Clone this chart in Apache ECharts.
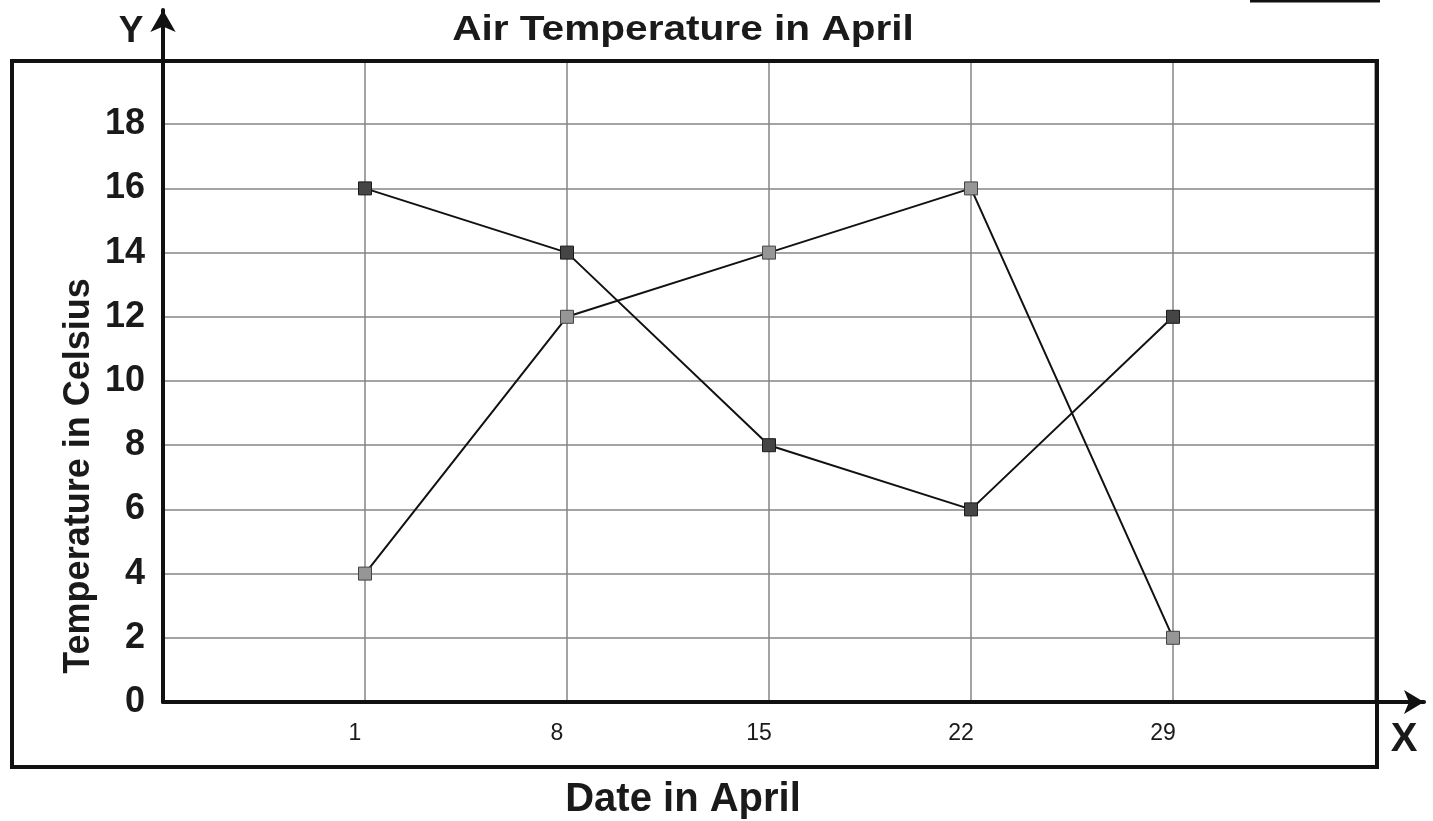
<!DOCTYPE html>
<html>
<head>
<meta charset="utf-8">
<title>Air Temperature in April</title>
<script src="https://cdn.jsdelivr.net/npm/echarts@6/dist/echarts.min.js"></script>
<style>
  html, body { margin: 0; padding: 0; background: #fff; }
  #chart { width: 1433px; height: 821px; }
</style>
</head>
<body>
<div id="chart"></div>
<script>
// 数据
var dates = ["1", "8", "15", "22", "29"];
var darkTemps = [16, 14, 8, 6, 12];
var lightTemps = [4, 12, 14, 16, 2];
var yTicks = [0, 2, 4, 6, 8, 10, 12, 14, 16, 18];

(function() {
  var myChart = echarts.init(document.getElementById("chart"));
  var font = "Liberation Sans, Arial, sans-serif";

  // 两端留一个空列，和原图的网格一致
  var xCategories = [""].concat(dates, [""]);
  function pad(arr) {
    return [null].concat(arr, [null]);
  }

  var option = {
    animation: false,
    backgroundColor: "#fff",
    grid: [
      // 主绘图区
      { left: 163, right: 58, top: 60, bottom: 119 },
      // 只画带箭头的坐标轴
      { left: 163, right: 9, top: 10, bottom: 119 }
    ],
    xAxis: [
      {
        type: "category",
        gridIndex: 0,
        data: xCategories,
        boundaryGap: false,
        axisLine: { show: false },
        axisTick: { show: false },
        axisLabel: {
          color: "#1a1a1a",
          fontFamily: font,
          fontSize: 23,
          margin: 20,
          padding: [0, 20, 0, 0]
        },
        splitLine: { show: true, lineStyle: { color: "#858585", width: 1.5 } }
      },
      {
        type: "value",
        gridIndex: 1,
        min: 0,
        max: 1,
        axisLine: {
          show: true,
          symbol: ["none", "arrow"],
          symbolSize: [18, 20],
          lineStyle: { color: "#111", width: 4 }
        },
        axisTick: { show: false },
        axisLabel: { show: false },
        splitLine: { show: false }
      }
    ],
    yAxis: [
      {
        type: "value",
        gridIndex: 0,
        min: 0,
        max: 20,
        interval: 2,
        axisLine: { show: false },
        axisTick: { show: false },
        axisLabel: {
          color: "#1a1a1a",
          fontFamily: font,
          fontSize: 36,
          fontWeight: "bold",
          margin: 18,
          formatter: function(v) {
            return yTicks.indexOf(v) >= 0 ? String(v) : "";
          }
        },
        splitLine: { show: true, lineStyle: { color: "#858585", width: 1.5 } }
      },
      {
        type: "value",
        gridIndex: 1,
        min: 0,
        max: 1,
        axisLine: {
          show: true,
          symbol: ["none", "arrow"],
          symbolSize: [19, 22],
          lineStyle: { color: "#111", width: 4 }
        },
        axisTick: { show: false },
        axisLabel: { show: false },
        splitLine: { show: false }
      }
    ],
    series: [
      {
        name: "dark",
        type: "line",
        xAxisIndex: 0,
        yAxisIndex: 0,
        data: pad(darkTemps),
        symbol: "rect",
        symbolSize: 13,
        itemStyle: { color: "#454545", borderColor: "#1a1a1a", borderWidth: 1 },
        lineStyle: { color: "#111", width: 2 },
        z: 5
      },
      {
        name: "light",
        type: "line",
        xAxisIndex: 0,
        yAxisIndex: 0,
        data: pad(lightTemps),
        symbol: "rect",
        symbolSize: 13,
        itemStyle: { color: "#969696", borderColor: "#444", borderWidth: 1 },
        lineStyle: { color: "#111", width: 2 },
        z: 5
      }
    ],
    graphic: [
      // 外框
      {
        type: "rect",
        shape: { x: 12, y: 61, width: 1365, height: 706 },
        style: { fill: null, stroke: "#111", lineWidth: 4 },
        z: 1
      },
      // 右上角的横线
      {
        type: "line",
        shape: { x1: 1250, y1: 1, x2: 1380, y2: 1 },
        style: { stroke: "#111", lineWidth: 3 }
      },
      // 标题（原图略微横向拉宽）
      {
        type: "text",
        x: 683,
        y: 30,
        scaleX: 1.16,
        style: {
          text: "Air Temperature in April",
          fontFamily: font,
          fontSize: 35,
          fontWeight: "bold",
          fill: "#1a1a1a",
          align: "center",
          verticalAlign: "middle"
        }
      },
      {
        type: "text",
        x: 131,
        y: 32,
        style: {
          text: "Y",
          fontFamily: font,
          fontSize: 37,
          fontWeight: "bold",
          fill: "#1a1a1a",
          align: "center",
          verticalAlign: "middle"
        }
      },
      {
        type: "text",
        x: 1404,
        y: 740,
        style: {
          text: "X",
          fontFamily: font,
          fontSize: 40,
          fontWeight: "bold",
          fill: "#1a1a1a",
          align: "center",
          verticalAlign: "middle"
        }
      },
      {
        type: "text",
        x: 79,
        y: 476,
        rotation: Math.PI / 2,
        style: {
          text: "Temperature in Celsius",
          fontFamily: font,
          fontSize: 36,
          fontWeight: "bold",
          fill: "#1a1a1a",
          align: "center",
          verticalAlign: "middle"
        }
      },
      {
        type: "text",
        x: 683,
        y: 800,
        style: {
          text: "Date in April",
          fontFamily: font,
          fontSize: 40,
          fontWeight: "bold",
          fill: "#1a1a1a",
          align: "center",
          verticalAlign: "middle"
        }
      }
    ]
  };

  myChart.setOption(option);
  window.addEventListener("resize", function() {
    myChart.resize();
  });
})();
</script>
</body>
</html>
